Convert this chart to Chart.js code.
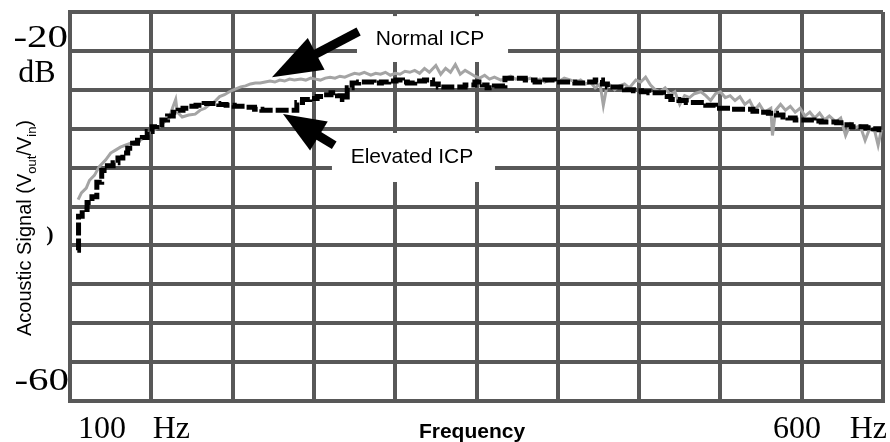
<!DOCTYPE html>
<html><head><meta charset="utf-8">
<script src="https://cdn.jsdelivr.net/npm/chart.js@4.4.1/dist/chart.umd.min.js"></script>
<style>html,body{margin:0;padding:0;background:#fff;}canvas{display:block;}</style>
</head><body>
<canvas id="c" width="890" height="442"></canvas>
<script>
// ---- data (Hz, dB) ----
const normalFreq = [105,107,110,112,115,118,122,125,128,131,134,137,140,143,146,149,152,155,158,161,163,165,166,169,173,177,180,183,186,189,192,195,198,202,205,208,211,214,217,220,223,226,229,232,235,238,242,245,248,251,254,257,260,263,266,269,272,275,278,281,285,288,291,294,297,300,303,306,309,312,315,318,321,325,328,331,334,337,340,343,346,349,352,355,358,361,365,368,371,374,377,380,383,386,389,392,395,398,401,404,408,411,414,417,420,423,426,428,430,432,435,438,441,444,448,451,454,457,460,463,466,469,472,475,478,481,484,488,491,494,497,500,503,506,509,512,515,518,521,524,527,531,532,534,537,540,543,546,549,552,555,558,561,564,567,571,574,577,580,583,586,589,592,595,597,599];
const normalICP = [-39.3,-38.6,-38.1,-37.3,-36.8,-35.9,-35.2,-34.5,-34.2,-33.9,-33.7,-33.5,-33.3,-33.2,-32.9,-32.4,-32.1,-31.8,-31.3,-30.9,-29.9,-29.0,-30.3,-30.8,-30.6,-30.5,-30.1,-29.9,-29.5,-29.2,-28.7,-28.5,-28.2,-27.9,-27.7,-27.6,-27.4,-27.3,-27.3,-27.2,-27.1,-27.2,-27.0,-27.1,-26.9,-27.0,-26.9,-27.0,-26.8,-26.9,-27.0,-26.8,-26.7,-26.8,-26.6,-26.7,-26.5,-26.3,-26.4,-26.2,-26.5,-26.3,-26.4,-26.2,-26.5,-26.3,-26.4,-26.1,-26.2,-26.0,-26.3,-25.8,-26.2,-25.5,-26.4,-25.8,-26.2,-25.4,-26.4,-26.0,-26.3,-26.6,-26.8,-26.5,-26.9,-26.7,-27.0,-26.8,-26.6,-26.9,-26.8,-27.0,-26.8,-27.1,-26.9,-27.2,-27.0,-26.9,-27.1,-26.8,-27.0,-27.2,-27.0,-27.4,-27.2,-27.8,-27.4,-29.6,-27.8,-27.5,-28.0,-27.6,-27.4,-27.8,-27.0,-27.2,-26.7,-27.5,-28.0,-28.2,-27.8,-28.5,-28.2,-29.5,-28.6,-28.8,-28.4,-28.2,-28.6,-29.1,-28.4,-28.2,-28.8,-28.6,-29.1,-28.7,-29.5,-29.1,-30.1,-29.5,-30.3,-29.9,-32.7,-30.1,-29.5,-30.1,-29.7,-30.3,-29.9,-30.7,-30.3,-30.9,-30.4,-31.1,-30.7,-31.3,-30.9,-32.7,-31.5,-31.9,-31.7,-33.2,-31.9,-32.3,-33.7,-32.1];
const elevatedFreq = [104.5,106,109,112,115,118,121,125,128,131,134,137,140,143,146,149,152,155,158,162,165,168,171,175,180,185,189,194,198,204,211,216,220,225,229,234,238,241,245,250,254,258,263,266,269,272,275,280,285,289,294,298,303,306,309,315,321,325,328,334,340,346,352,355,358,364,371,377,383,389,395,401,407,414,420,426,429,432,438,444,449,454,458,463,467,472,477,481,488,494,500,504,509,513,518,522,527,532,537,540,543,549,555,560,564,569,574,578,583,587,592,596,599];
const elevatedICP = [-44.5,-41.0,-40.3,-39.6,-39.0,-37.5,-36.3,-35.8,-35.5,-35.0,-34.5,-34.0,-33.5,-33.2,-32.9,-32.3,-31.8,-31.6,-31.1,-30.7,-30.3,-30.1,-29.9,-29.7,-29.6,-29.4,-29.4,-29.5,-29.6,-29.7,-29.8,-30.0,-30.1,-30.1,-30.1,-30.1,-30.1,-29.3,-29.0,-28.9,-28.7,-28.5,-28.3,-28.6,-29.0,-27.8,-27.3,-27.2,-27.2,-27.3,-27.2,-27.1,-27.0,-27.2,-27.3,-27.1,-27.0,-27.4,-27.7,-27.7,-27.7,-27.5,-27.2,-27.5,-27.8,-27.6,-26.8,-26.8,-27.0,-27.2,-27.0,-27.2,-27.2,-27.3,-27.2,-27.0,-27.4,-27.7,-27.7,-28.0,-28.1,-28.2,-28.3,-28.3,-28.7,-29.0,-29.1,-29.3,-29.3,-29.6,-29.9,-29.9,-30.0,-30.0,-30.0,-30.2,-30.3,-30.4,-30.6,-30.8,-30.9,-31.1,-31.1,-31.2,-31.3,-31.3,-31.4,-31.6,-31.8,-31.8,-31.9,-32.0,-32.1];

// ---- text ----
const yTickLabels = ['-20', 'dB', '-60'];
const xTickLabels = ['100', 'Hz', '600', 'Hz'];
const xAxisTitle = 'Frequency';
const yAxisTitleParts = ['Acoustic Signal (V', 'out', '/V', 'in', ')'];
const seriesNames = ['Normal ICP', 'Elevated ICP'];

const GRID = '#585858';
const SANS = '"Liberation Sans", Arial, sans-serif';
const SERIF = '"Liberation Serif", "Times New Roman", serif';

function arrow(ctx, x1, y1, x2, y2, shaftW, headLen, headW) {
  const dx = x2 - x1, dy = y2 - y1, L = Math.hypot(dx, dy);
  const ux = dx / L, uy = dy / L, nx = -uy, ny = ux;
  const bx = x2 - ux * headLen, by = y2 - uy * headLen;
  ctx.beginPath();
  ctx.lineWidth = shaftW; ctx.strokeStyle = '#000'; ctx.lineCap = 'butt';
  ctx.moveTo(x1, y1); ctx.lineTo(bx + ux * 2, by + uy * 2); ctx.stroke();
  ctx.beginPath(); ctx.fillStyle = '#000';
  ctx.moveTo(x2, y2);
  ctx.lineTo(bx + nx * headW / 2, by + ny * headW / 2);
  ctx.lineTo(bx - nx * headW / 2, by - ny * headW / 2);
  ctx.closePath(); ctx.fill();
}

function stretchedText(ctx, text, rightX, baseY, sx) {
  ctx.save();
  ctx.translate(rightX, baseY);
  ctx.scale(sx, 1);
  ctx.textAlign = 'right';
  ctx.fillText(text, 0, 0);
  ctx.restore();
}

const overlay = {
  id: 'overlay',
  beforeDatasetsDraw(chart) {
    const { ctx, scales: { x, y } } = chart;
    ctx.save();
    ctx.fillStyle = '#fff';
    const r1 = [x.getPixelForValue(276.5), y.getPixelForValue(-20.42), x.getPixelForValue(369.4), y.getPixelForValue(-25.14)];
    ctx.fillRect(r1[0], r1[1], r1[2] - r1[0], r1[3] - r1[1]);
    const r2 = [x.getPixelForValue(261.1), y.getPixelForValue(-32.44), x.getPixelForValue(361.4), y.getPixelForValue(-37.48)];
    ctx.fillRect(r2[0], r2[1], r2[2] - r2[0], r2[3] - r2[1]);
    ctx.restore();
  },
  afterDraw(chart) {
    const { ctx, scales: { x, y }, chartArea: a } = chart;
    ctx.save();
    ctx.fillStyle = '#000';
    // series annotations
    ctx.font = '21px ' + SANS; ctx.textAlign = 'center'; ctx.textBaseline = 'alphabetic';
    ctx.fillText(seriesNames[0], x.getPixelForValue(321.4), y.getPixelForValue(-23.4));
    ctx.fillText(seriesNames[1], x.getPixelForValue(310.3), y.getPixelForValue(-35.55));
    arrow(ctx, x.getPixelForValue(277.5), y.getPixelForValue(-22.0), x.getPixelForValue(224.2), y.getPixelForValue(-26.7), 9, 50, 36);
    arrow(ctx, x.getPixelForValue(262.5), y.getPixelForValue(-33.7), x.getPixelForValue(231.0), y.getPixelForValue(-30.5), 9, 42, 34);
    // y tick labels (serif)
    ctx.font = '32px ' + SERIF;
    stretchedText(ctx, yTickLabels[0], a.left - 2, 47, 1.28);
    ctx.textAlign = 'center';
    ctx.fillText(yTickLabels[1], 37, 82);
    stretchedText(ctx, yTickLabels[2], a.left - 1, 390, 1.28);
    // x tick labels
    ctx.textAlign = 'left';
    ctx.fillText(xTickLabels[0], 78, 438);
    ctx.textAlign = 'right';
    ctx.fillText(xTickLabels[1], 190, 438);
    ctx.textAlign = 'left';
    ctx.fillText(xTickLabels[2], 773, 438);
    ctx.textAlign = 'right';
    ctx.fillText(xTickLabels[3], 887, 438);
    // stray parenthesis
    ctx.font = 'bold 22px ' + SERIF; ctx.textAlign = 'center';
    ctx.fillText(')', 50, 241);
    // x axis title
    ctx.font = 'bold 21px ' + SANS; ctx.textAlign = 'center';
    ctx.fillText(xAxisTitle, 472, 438);
    // y axis title with subscripts
    ctx.translate(31, 228);
    ctx.rotate(-Math.PI / 2);
    const big = '20px ' + SANS, small = '13px ' + SANS;
    const fonts = [big, small, big, small, big];
    let total = 0; const widths = [];
    yAxisTitleParts.forEach((t, i) => { ctx.font = fonts[i]; const w = ctx.measureText(t).width; widths.push(w); total += w; });
    let cx = -total / 2;
    ctx.textAlign = 'left';
    yAxisTitleParts.forEach((t, i) => {
      ctx.font = fonts[i];
      ctx.fillText(t, cx, (i === 1 || i === 3) ? 5 : 0);
      cx += widths[i];
    });
    ctx.restore();
  }
};

new Chart(document.getElementById('c'), {
  type: 'line',
  data: {
    datasets: [
      {
        label: seriesNames[1],
        data: elevatedFreq.map((f, i) => ({ x: f, y: elevatedICP[i] })),
        borderColor: '#000', borderWidth: 5, borderDash: [13, 3],
        stepped: 'middle', pointRadius: 0, fill: false, order: 0
      },
      {
        label: seriesNames[0],
        data: normalFreq.map((f, i) => ({ x: f, y: normalICP[i] })),
        borderColor: '#a4a4a4', borderWidth: 3, pointRadius: 0, fill: false,
        tension: 0, order: 1
      }
    ]
  },
  options: {
    responsive: false, animation: false,
    layout: { padding: { left: 70, right: 7, top: 12, bottom: 41 } },
    plugins: { legend: { display: false }, tooltip: { enabled: false } },
    scales: {
      x: {
        type: 'linear', min: 100, max: 600,
        ticks: { display: false, stepSize: 50 },
        grid: { color: GRID, lineWidth: 4, drawTicks: false },
        border: { display: true, color: GRID, width: 4 }
      },
      y: {
        type: 'linear', min: -60, max: -20,
        ticks: { display: false, stepSize: 4 },
        grid: { color: GRID, lineWidth: 4, drawTicks: false },
        border: { display: true, color: GRID, width: 4 }
      }
    }
  },
  plugins: [overlay]
});
</script>
</body></html>
